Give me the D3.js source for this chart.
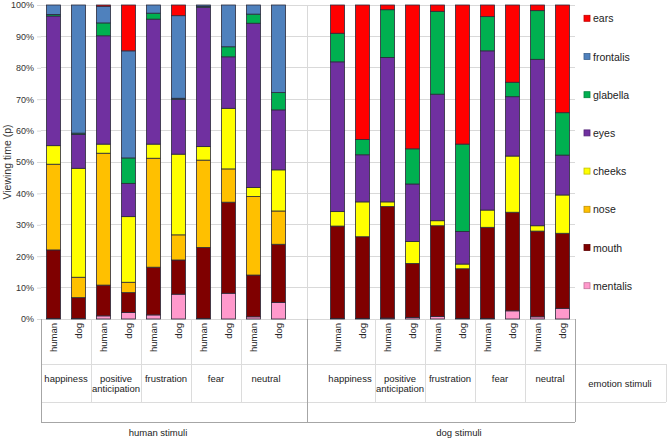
<!DOCTYPE html>
<html><head><meta charset="utf-8">
<script src="https://cdn.jsdelivr.net/npm/d3@7"></script>
<style>body{margin:0;background:#fff;}svg{display:block;font-family:"Liberation Sans",Arial,sans-serif;}</style>
</head><body><svg id="c" width="669" height="443"></svg>
<script>
// ---- data ----
const stimuli = ["human stimuli", "dog stimuli"];
const emotions = ["happiness", "positive anticipation", "frustration", "fear", "neutral"];
const viewers = ["human", "dog"];
const seriesNames = ["mentalis", "mouth", "nose", "cheeks", "eyes", "glabella", "frontalis", "ears"];
const seriesColors = ["#ff99cc", "#7f0000", "#ffc000", "#ffff00", "#7030a0", "#00b050", "#4f81bd", "#ff0000"];
const legendOrder = ["ears", "frontalis", "glabella", "eyes", "cheeks", "nose", "mouth", "mentalis"];
const yTicks = [0, 10, 20, 30, 40, 50, 60, 70, 80, 90, 100];
// values per bar (order: human stimuli happiness human, happiness dog, ..., dog stimuli neutral dog)
const mentalis  = [0.2, 0.2, 1.0, 2.1, 1.3, 7.9, 0.2, 8.2, 0.7, 5.3,   0.2, 0.2, 0.3, 0.5, 0.8, 0.2, 0.2, 2.6, 0.7, 3.4];
const mouth     = [21.8, 6.6, 9.8, 6.3, 15.2, 10.9, 22.6, 29.0, 13.3, 18.5,   29.4, 26.0, 35.5, 17.2, 28.9, 15.8, 29.0, 31.4, 27.3, 23.9];
const nose      = [27.3, 6.5, 42.0, 3.3, 34.7, 8.0, 27.8, 10.6, 25.0, 10.6,   0, 0, 0, 0, 0, 0, 0, 0, 0, 0];
const cheeks    = [5.9, 34.7, 2.9, 20.9, 4.5, 25.7, 4.3, 19.3, 2.9, 13.1,   4.6, 11.1, 1.5, 7.0, 1.6, 1.5, 5.5, 17.9, 1.7, 12.2];
const eyes      = [41.3, 10.8, 34.5, 10.6, 39.8, 17.5, 44.4, 16.4, 52.3, 19.1,   47.7, 15.0, 46.0, 18.3, 40.3, 10.4, 50.7, 18.9, 53.0, 12.7];
const glabella  = [0.5, 0.4, 4.1, 8.1, 1.9, 0.3, 0.3, 3.2, 2.9, 5.5,   9.1, 4.9, 15.2, 11.2, 26.4, 27.8, 10.9, 4.6, 15.5, 13.5];
const frontalis = [3.0, 40.8, 5.3, 34.1, 2.6, 26.3, 0.4, 13.3, 2.9, 27.9,   0, 0, 0, 0, 0, 0, 0, 0, 0, 0];
const ears      = [0, 0, 0.4, 14.6, 0, 3.4, 0, 0, 0, 0,   9.0, 42.8, 1.5, 45.8, 2.0, 44.3, 3.7, 24.6, 1.8, 34.3];

const seriesValues = [mentalis, mouth, nose, cheeks, eyes, glabella, frontalis, ears];
const rows = [];
stimuli.forEach((s, si) => emotions.forEach((e, ei) => viewers.forEach((v, vi) => {
  const i = si * 10 + ei * 2 + vi;
  const r = {stim: si, emo: ei, viewer: v, idx: i + (si ? 1.36 : 0)};
  seriesNames.forEach((n, k) => r[n] = seriesValues[k][i]);
  rows.push(r);
})));

// ---- layout ----
const svg = d3.select("#c");
const L = 41, R = 575, T = 5, B = 319;
const x = d3.scaleLinear().domain([0, 21.36]).range([L, R]);
const y = d3.scaleLinear().domain([0, 100]).range([B, T]);
const color = d3.scaleOrdinal().domain(seriesNames).range(seriesColors);
const barW = 14;

// gridlines
svg.append("g").selectAll("line").data(yTicks).join("line")
  .attr("x1", L).attr("x2", R).attr("y1", d => y(d)).attr("y2", d => y(d))
  .attr("stroke", "#d9d9d9").attr("stroke-width", 1).attr("shape-rendering", "crispEdges");
// divider in plot
const divX = Math.round(x(10.68)) - 1;
svg.append("line").attr("x1", divX).attr("x2", divX).attr("y1", T).attr("y2", B)
  .attr("stroke", "#d9d9d9").attr("shape-rendering", "crispEdges");

// y axis
const yAxis = d3.axisLeft(y).tickValues(yTicks).tickFormat(d => d + "%").tickSize(4).tickPadding(3);
const ya = svg.append("g").attr("transform", `translate(${L},0)`).call(yAxis);
ya.select(".domain").remove();
ya.selectAll(".tick line").attr("stroke", "#d9d9d9");
ya.selectAll(".tick text").attr("font-size", 9).attr("fill", "#333").attr("font-family", "Liberation Sans, Arial");
svg.append("text").attr("transform", `translate(11,${(T + B) / 2}) rotate(-90)`)
  .attr("text-anchor", "middle").attr("font-size", 10.5).attr("fill", "#333").text("Viewing time (p)");

// stacked bars
const stack = d3.stack().keys(seriesNames)(rows);
svg.append("g").selectAll("g").data(stack).join("g")
  .attr("fill", d => color(d.key))
  .selectAll("rect").data(d => d).join("rect")
  .attr("x", d => x(d.data.idx + 0.5) - barW / 2)
  .attr("width", barW)
  .attr("y", d => y(d[1]))
  .attr("height", d => Math.max(0, y(d[0]) - y(d[1])))
  .attr("stroke", "#2a2a3a").attr("stroke-width", d => (d[1] - d[0]) > 0.05 ? 0.8 : 0);

// ---- category table ----
const tbl = svg.append("g");
const r1 = 364, r2 = 402, r3 = 422;
const faint = "#dcdcdc", dark = "#a6a6a6";
function ln(x1, y1, x2, y2, c) {
  tbl.append("line").attr("x1", x1).attr("y1", y1).attr("x2", x2).attr("y2", y2)
    .attr("stroke", c).attr("shape-rendering", "crispEdges");
}
ln(L, r1, 666, r1, faint);
ln(L, r2, 666, r2, faint);
ln(666, r1, 666, r2, faint);
// emotion dividers
stimuli.forEach((s, si) => emotions.forEach((e, ei) => {
  if (ei === 0) return;
  const xx = Math.round(x(si * 11.36 + ei * 2));
  ln(xx, B, xx, r2, faint);
}));
// outer
ln(L, B, L, r3, dark);
ln(divX, B, divX, r3, dark);
ln(R, B, R, r3, dark);
ln(L, r3, R, r3, dark);

// viewer labels
tbl.selectAll("text.v").data(rows).join("text").attr("class", "v")
  .attr("transform", d => `translate(${x(d.idx + 0.5) + 3.5},${B + 4}) rotate(-90)`)
  .attr("text-anchor", "end").attr("font-size", 9.5).attr("fill", "#222").text(d => d.viewer);

// emotion labels
stimuli.forEach((s, si) => emotions.forEach((e, ei) => {
  const cx = x(si * 11.36 + ei * 2 + 1);
  const t = tbl.append("text").attr("x", cx).attr("text-anchor", "middle")
    .attr("font-size", 9.5).attr("fill", "#222");
  if (e === "positive anticipation") {
    t.append("tspan").attr("x", cx).attr("y", 382).text("positive");
    t.append("tspan").attr("x", cx).attr("y", 392).text("anticipation");
  } else {
    t.attr("y", 382).text(e);
  }
}));
tbl.append("text").attr("x", 620).attr("y", 387).attr("text-anchor", "middle")
  .attr("font-size", 9.5).attr("fill", "#222").text("emotion stimuli");

// stimuli labels
const stimX = [x(5) - 8, x(11.36 + 5) + 9];
stimuli.forEach((s, si) => {
  tbl.append("text").attr("x", stimX[si]).attr("y", 436).attr("text-anchor", "middle")
    .attr("font-size", 9.5).attr("fill", "#222").text(s);
});

// legend
const lg = svg.append("g");
legendOrder.forEach((n, i) => {
  const cy = 18.3 + i * 38.2;
  lg.append("rect").attr("x", 584).attr("y", cy - 3).attr("width", 6).attr("height", 6)
    .attr("fill", color(n)).attr("stroke", d3.color(color(n)).darker(0.8)).attr("stroke-width", 0.8);
  lg.append("text").attr("x", 593).attr("y", cy + 4).attr("font-size", 10.5).attr("fill", "#222").text(n);
});
</script></body></html>
